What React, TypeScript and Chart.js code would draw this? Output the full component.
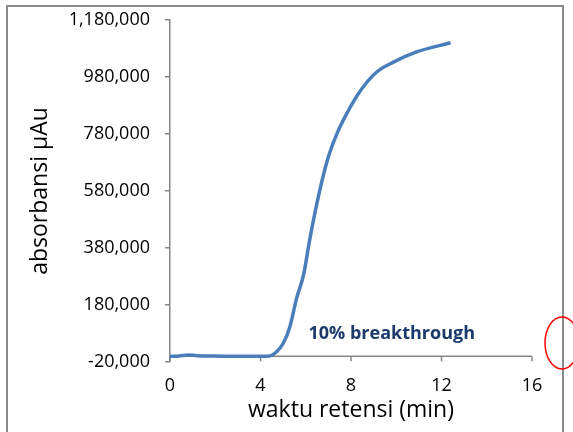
import React, { useEffect, useRef } from "react";
import { Chart, registerables } from "chart.js";

Chart.register(...registerables);

// retention time (min)
const timeMin = [
  0.0, 0.4, 0.8, 1.2, 2.0, 3.0, 4.0, 4.4, 4.7, 5.0, 5.3, 5.6, 5.9, 6.2, 6.6,
  7.0, 7.4, 7.8, 8.4, 9.1, 9.9, 10.9, 12.4,
];
// absorbance (µAu)
const absorbance = [
  0, 1000, 5000, 2000, 1000, 0, 0, 1000, 15000, 45000, 104000, 205000, 285000,
  420000, 575000, 700000, 785000, 850000, 930000, 995000, 1033000, 1068000,
  1100000,
];

const Y_MIN = -20000;
const Y_MAX = 1180000;
const Y_STEP = 200000;
const X_MIN = 0;
const X_MAX = 16;
const X_STEP = 4;
const X_AXIS_CROSS = 0; // horizontal axis crosses the value axis at 0

const X_TITLE = "waktu retensi (min)";
const Y_TITLE = "absorbansi µAu";
const NOTE_TEXT = "10% breakthrough";
const NOTE_X = 9.8;
const NOTE_Y = 78000;

const FONT = "'Open Sans', 'Noto Sans', sans-serif";
const AXIS_GRAY = "#868686";

const axisPlugin = {
  id: "crossAxis",
  beforeDatasetsDraw(chart: any) {
    const ctx = chart.ctx;
    const xs = chart.scales.x;
    const ys = chart.scales.y;
    const y0 = ys.getPixelForValue(X_AXIS_CROSS);
    ctx.save();
    ctx.strokeStyle = AXIS_GRAY;
    ctx.lineWidth = 1.5;
    ctx.beginPath();
    ctx.moveTo(chart.chartArea.left, y0);
    ctx.lineTo(chart.chartArea.right, y0);
    xs.ticks.forEach((t: any) => {
      const px = xs.getPixelForValue(t.value);
      ctx.moveTo(px, y0);
      ctx.lineTo(px, y0 + 5);
    });
    ctx.stroke();
    ctx.restore();
  },
};

const decorPlugin = {
  id: "decor",
  afterDraw(chart: any) {
    const ctx = chart.ctx;
    const x = chart.scales.x.getPixelForValue(NOTE_X);
    const y = chart.scales.y.getPixelForValue(NOTE_Y);
    ctx.save();
    ctx.font = `bold 18px ${FONT}`;
    ctx.fillStyle = "#1B3A6B";
    ctx.textAlign = "center";
    ctx.textBaseline = "middle";
    ctx.fillText(NOTE_TEXT, x, y);

    // outer frame of the chart object
    ctx.strokeStyle = "#8c8c8c";
    ctx.lineWidth = 2;
    ctx.beginPath();
    ctx.moveTo(7, 440);
    ctx.lineTo(7, 6);
    ctx.lineTo(563, 6);
    ctx.lineTo(563, 440);
    ctx.stroke();

    // red highlight ellipse
    ctx.strokeStyle = "#ff0000";
    ctx.lineWidth = 1.5;
    ctx.beginPath();
    ctx.ellipse(562, 343, 17, 26, 0, 0, Math.PI * 2);
    ctx.stroke();
    ctx.restore();
  },
};

export default function App() {
  const ref = useRef<HTMLCanvasElement | null>(null);

  useEffect(() => {
    if (!ref.current) return;
    const points = timeMin.map((t, i) => ({ x: t, y: absorbance[i] }));
    const chart = new Chart(ref.current, {
      type: "line",
      data: {
        datasets: [
          {
            data: points,
            borderColor: "#4A7EBB",
            borderWidth: 3.5,
            pointRadius: 0,
            tension: 0.4,
            cubicInterpolationMode: "monotone",
            fill: false,
          },
        ],
      },
      options: {
        animation: false,
        responsive: false,
        devicePixelRatio: 1,
        layout: { padding: { left: 0, top: 20, right: 41, bottom: 0 } },
        plugins: {
          legend: { display: false },
          tooltip: { enabled: false },
        },
        scales: {
          x: {
            type: "linear",
            min: X_MIN,
            max: X_MAX,
            ticks: {
              stepSize: X_STEP,
              color: "#000",
              font: { family: FONT, size: 18 },
              padding: 13,
              maxRotation: 0,
            },
            grid: { display: false, drawOnChartArea: false, drawTicks: false },
            border: { display: false },
            title: {
              display: true,
              text: X_TITLE,
              color: "#000",
              font: { family: FONT, size: 23 },
              padding: { top: 0, bottom: 8 },
            },
            afterFit: (s: any) => {
              s.height = 70;
              s.paddingLeft = 0;
              s.paddingRight = 0;
            },
          },
          y: {
            type: "linear",
            min: Y_MIN,
            max: Y_MAX,
            ticks: {
              stepSize: Y_STEP,
              color: "#000",
              font: { family: FONT, size: 18 },
              padding: 15,
              callback: (v: any) => Number(v).toLocaleString("en-US"),
            },
            grid: {
              drawOnChartArea: false,
              drawTicks: true,
              tickLength: 5,
              color: AXIS_GRAY,
              lineWidth: 1.5,
            },
            border: { color: AXIS_GRAY, width: 1.5 },
            title: {
              display: true,
              text: Y_TITLE,
              color: "#000",
              font: { family: FONT, size: 23 },
              padding: { top: 27, bottom: 0 },
            },
            afterFit: (s: any) => {
              s.width = 170;
              s.paddingTop = 0;
              s.paddingBottom = 0;
            },
          },
        },
      },
      plugins: [axisPlugin, decorPlugin],
    });
    return () => chart.destroy();
  }, []);

  return (
    <div style={{ position: "fixed", left: 0, top: 0, width: 573, height: 432, background: "#fff" }}>
      <canvas ref={ref} width={573} height={432} style={{ display: "block" }} />
    </div>
  );
}
